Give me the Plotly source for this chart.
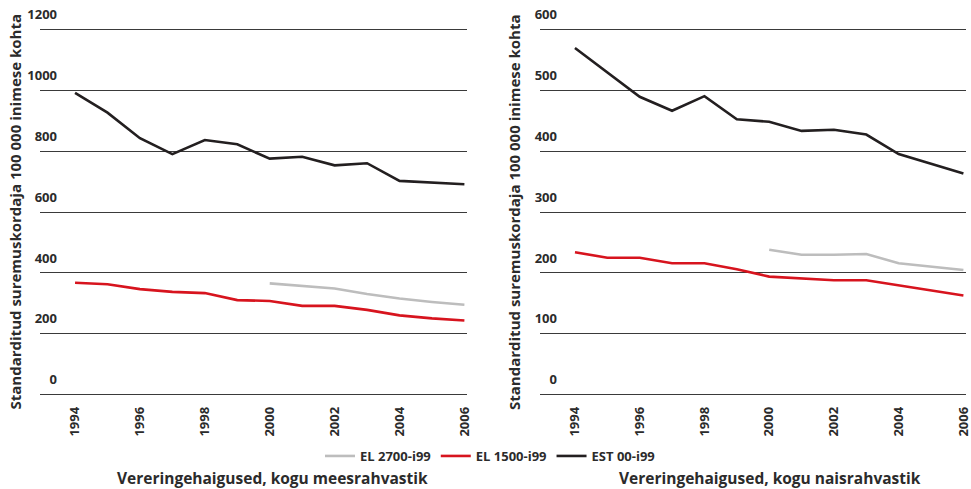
import plotly.graph_objects as go

years = list(range(1994, 2007))
years_eu27 = list(range(2000, 2007))

series_names = ["EL 2700-i99", "EL 1500-i99", "EST 00-i99"]
series_colors = ["#bdbdbd", "#d7141e", "#231f20"]

men_eu27 = [366, 357, 349, 331, 316, 305, 296]
men_eu15 = [368, 363, 347, 338, 334, 311, 308, 292, 292, 279, 261, 251, 244]
men_est = [991, 926, 842, 790, 836, 822, 775, 781, 753, 760, 702, 696, 691]

women_eu27 = [238, 230, 230, 231, 216, 210, 205]
women_eu15 = [234, 225, 225, 216, 216, 206, 194, 191, 188, 188, 180, 171, 163]
women_est = [569, 529, 489, 466, 490, 452, 448, 433, 435, 427, 395, 379, 363]

x_ticks = [1994, 1996, 1998, 2000, 2002, 2004, 2006]
men_yticks = [0, 200, 400, 600, 800, 1000, 1200]
women_yticks = [0, 100, 200, 300, 400, 500, 600]

y_title = "Standarditud suremuskordaja 100 000 inimese kohta"
panel_titles = ["Vereringehaigused, kogu meesrahvastik", "Vereringehaigused, kogu naisrahvastik"]

W, H = 971, 489
FONT = "Open Sans"
TXT = "#2b2b2b"

fig = go.Figure()

panels = [
    ("x", "y", [men_eu27, men_eu15, men_est], True),
    ("x2", "y2", [women_eu27, women_eu15, women_est], False),
]
for xa, ya, data, show in panels:
    for name, color, vals in zip(series_names, series_colors, data):
        xs = years_eu27 if len(vals) == len(years_eu27) else years
        fig.add_trace(go.Scatter(
            x=xs, y=vals, mode="lines", name=name,
            line=dict(color=color, width=2.6),
            xaxis=xa, yaxis=ya, showlegend=show, legendgroup=name,
        ))

def xax(domain, anchor):
    return dict(
        domain=domain, range=[1992.92, 2006.08], tickmode="array", tickvals=x_ticks,
        ticktext=[str(v) for v in x_ticks], tickangle=-90, showgrid=False, zeroline=False,
        showline=False, ticks="", ticklabelstandoff=4, automargin=False, anchor=anchor,
        ticklabeloverflow="allow",
        tickfont=dict(family=FONT, size=13, color=TXT, weight="bold"),
    )

PAD = 0.012
def yax(domain, ticks, top, anchor):
    return dict(
        domain=domain, range=[-top * PAD, top * (1 + PAD)], tickmode="array", tickvals=ticks,
        ticktext=[str(v) for v in ticks], showgrid=True, gridcolor="#3a3a3a", gridwidth=1,
        zeroline=False, showline=False, ticks="", anchor=anchor, automargin=False,
        ticklabelshift=-15, ticklabelstandoff=-18, ticklabeloverflow="allow",
        tickfont=dict(family=FONT, size=13, color=TXT, weight="bold"),
    )

# domain so that 0 sits at y=395px and top tick at y=29px
span = (395 - 29) / (1 + 2 * PAD)
bot_px = 395 + span * PAD
top_px = 29 - span * PAD
ydom = [1 - bot_px / H, 1 - top_px / H]

fig.update_layout(
    width=W, height=H, margin=dict(l=0, r=0, t=0, b=0, autoexpand=False),
    paper_bgcolor="white", plot_bgcolor="white",
    xaxis=xax([40 / W, 467 / W], "y"),
    xaxis2=xax([540 / W, 966 / W], "y2"),
    yaxis=yax(ydom, men_yticks, 1200, "x"),
    yaxis2=yax(ydom, women_yticks, 600, "x2"),
    showlegend=True,
    legend=dict(orientation="h", x=490 / W, xanchor="center", y=1 - 456 / H, yanchor="middle",
                font=dict(family=FONT, size=13, color=TXT, weight="bold"),
                itemwidth=30, traceorder="normal", bgcolor="rgba(0,0,0,0)"),
)

annos = [
    (y_title, 14.5, 212, -90, 15),
    (y_title, 514, 212, -90, 15),
    (panel_titles[0], 272, 478, 0, 15.5),
    (panel_titles[1], 770, 478, 0, 15.5),
]
for text, px, py, ang, fs in annos:
    fig.add_annotation(text=text, x=px / W, y=1 - py / H, xref="paper", yref="paper",
                       xanchor="center", yanchor="middle", textangle=ang,
                       showarrow=False, font=dict(family=FONT, size=fs, color=TXT, weight="bold"))

fig.write_html("out.html")
